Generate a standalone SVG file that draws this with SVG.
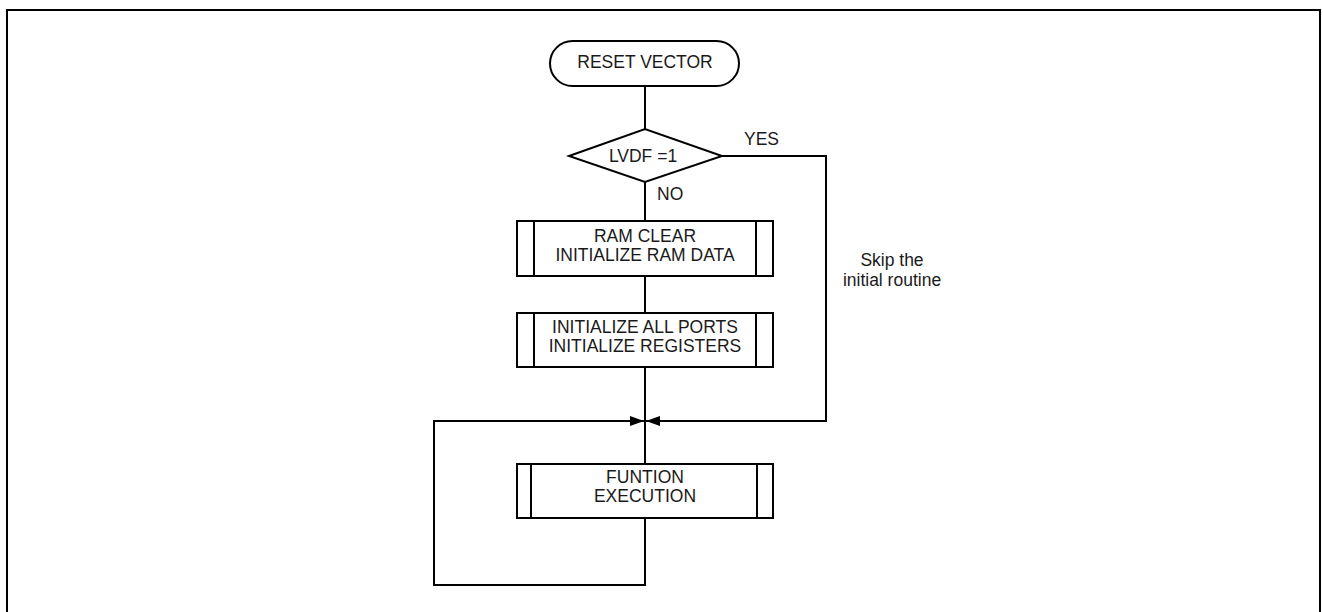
<svg xmlns="http://www.w3.org/2000/svg" width="1323" height="612" viewBox="0 0 1323 612">
<style>
.s{fill:none;stroke:#000;stroke-width:2}
.b{fill:#fff;stroke:#000;stroke-width:2}
text{font-family:"Liberation Sans",Arial,sans-serif;font-size:17.5px;fill:#1a1a1a;text-anchor:middle}
.l{text-anchor:start}
</style>
<defs>
<marker id="ah" viewBox="0 0 14 10" refX="14" refY="5" markerWidth="14" markerHeight="10" markerUnits="userSpaceOnUse" orient="auto">
<path d="M0,0 L14,5 L0,10 Z" fill="#000"/>
</marker>
</defs>
<rect width="1323" height="612" fill="#fff"/>
<path d="M7,612 V10 H1320 V612" fill="none" stroke="#000" stroke-width="2"/>
<g id="connectors">
<line class="s" x1="645" y1="86" x2="645" y2="129"/>
<line class="s" x1="645" y1="182" x2="645" y2="221"/>
<line class="s" x1="645" y1="276" x2="645" y2="313"/>
<line class="s" x1="645" y1="367" x2="645" y2="464"/>
<path class="s" d="M722,156 H826 V421 H646" marker-end="url(#ah)"/>
<path class="s" d="M645,518 V585 H434 V421 H644" marker-end="url(#ah)"/>
<text class="l" x="744" y="145">YES</text>
<text class="l" x="657" y="200">NO</text>
<text x="892" y="266">Skip the</text>
<text x="892" y="286">initial routine</text>
</g>
<g id="reset">
<rect class="b" x="550" y="41" width="189" height="45" rx="22.5"/>
<text x="645" y="68">RESET VECTOR</text>
</g>
<g id="lvdf">
<polygon class="b" points="569,156 645,129 722,156 645,182"/>
<text x="643" y="162">LVDF =1</text>
</g>
<g id="ramclear">
<rect class="b" x="517" y="221" width="256" height="55"/>
<line class="s" x1="534" y1="221" x2="534" y2="276"/>
<line class="s" x1="756" y1="221" x2="756" y2="276"/>
<text x="645" y="242">RAM CLEAR</text>
<text x="645" y="261">INITIALIZE RAM DATA</text>
</g>
<g id="initports">
<rect class="b" x="517" y="313" width="256" height="54"/>
<line class="s" x1="534" y1="313" x2="534" y2="367"/>
<line class="s" x1="756" y1="313" x2="756" y2="367"/>
<text x="645" y="333">INITIALIZE ALL PORTS</text>
<text x="645" y="352">INITIALIZE REGISTERS</text>
</g>
<g id="function">
<rect class="b" x="517" y="464" width="256" height="54"/>
<line class="s" x1="531" y1="464" x2="531" y2="518"/>
<line class="s" x1="757" y1="464" x2="757" y2="518"/>
<text x="645" y="483">FUNTION</text>
<text x="645" y="502">EXECUTION</text>
</g>
</svg>
